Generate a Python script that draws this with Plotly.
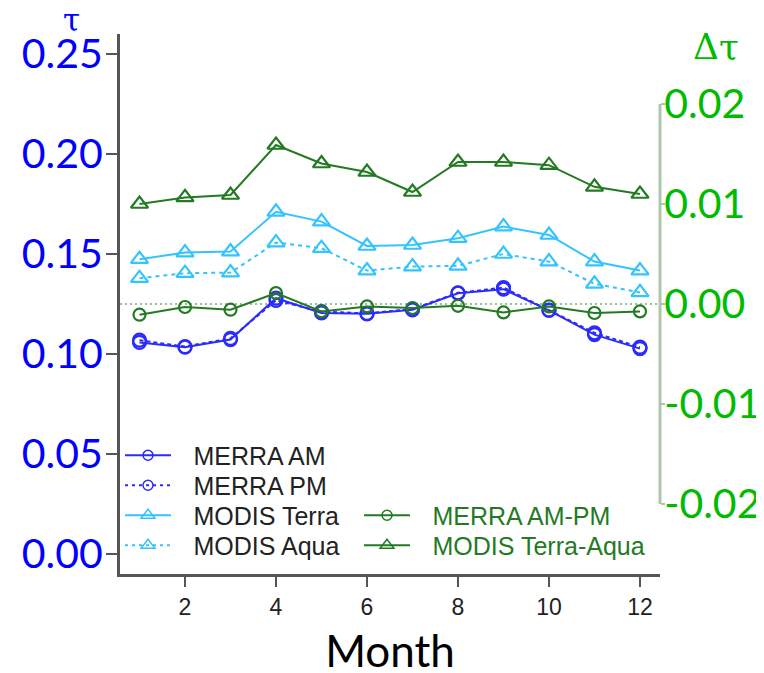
import plotly.graph_objects as go

months = list(range(1, 13))
merra_am = [0.1058, 0.1034, 0.1072, 0.1279, 0.1205, 0.1201, 0.1221, 0.1304, 0.1324, 0.1218, 0.1097, 0.1027]
merra_pm = [0.1069, 0.1037, 0.1078, 0.1268, 0.1212, 0.1203, 0.1225, 0.1306, 0.1332, 0.1220, 0.1106, 0.1034]
modis_terra = [0.1474, 0.1507, 0.1512, 0.1711, 0.1662, 0.1540, 0.1545, 0.1579, 0.1637, 0.1595, 0.1462, 0.1417]
modis_aqua = [0.1379, 0.1404, 0.1407, 0.1557, 0.1529, 0.1417, 0.1437, 0.1441, 0.1500, 0.1462, 0.1351, 0.1308]
merra_diff = [-0.00107, -0.0003, -0.00057, 0.00109, -0.00074, -0.00024, -0.0004, -0.00018, -0.00084, -0.00024, -0.0009, -0.00074]
modis_diff = [0.0100, 0.01066, 0.0109, 0.0159, 0.01405, 0.0132, 0.0112, 0.0142, 0.0142, 0.01388, 0.01172, 0.0110]

left_ticks = [0.0, 0.05, 0.10, 0.15, 0.20, 0.25]
left_ticktext = ["0.00", "0.05", "0.10", "0.15", "0.20", "0.25"]
right_ticks = [-0.02, -0.01, 0.0, 0.01, 0.02]
right_ticktext = ["-0.02", "-0.01", "0.00", "0.01", "0.02"]
x_ticks = [2, 4, 6, 8, 10, 12]

BLUE = "#2b2bff"
LBLUE = "#33c4ff"
DGREEN = "#237a23"
GAP = "\u2002\u2009"

fig = go.Figure()

def add(y, name, color, symbol, dash, yaxis="y", size=12):
    fig.add_trace(go.Scatter(
        x=months, y=y, name=name, yaxis=yaxis, mode="lines+markers",
        line=dict(color=color, width=2, dash=dash),
        marker=dict(symbol=symbol, size=size, color=color, line=dict(width=2.2, color=color)),
        showlegend=False))

add(modis_diff, "MODIS Terra-Aqua", DGREEN, "triangle-up-open", "solid", "y2", 15)
add(modis_terra, "MODIS Terra", LBLUE, "triangle-up-open", "solid", "y", 15)
add(modis_aqua, "MODIS Aqua", LBLUE, "triangle-up-open", "4px,4px", "y", 15)
add(merra_pm, "MERRA PM", BLUE, "circle-open", "4px,3px", "y", 13)
add(merra_am, "MERRA AM", BLUE, "circle-open", "solid", "y", 13)
add(merra_diff, "MERRA AM-PM", DGREEN, "circle-open", "solid", "y2", 12)

# legend-only entries (one legend box per entry for exact row placement)
def leg(name, color, symbol, dash, legend, msize):
    fig.add_trace(go.Scatter(
        x=[None], y=[None], name=GAP + name, mode="lines+markers",
        line=dict(color=color, width=2, dash=dash),
        marker=dict(symbol=symbol, size=msize, color=color, line=dict(width=1.5, color=color)),
        legend=legend, showlegend=True))

leg("MERRA AM", BLUE, "circle-open", "solid", "legend", 10)
leg("MERRA PM", BLUE, "circle-open", "3px,4px", "legend2", 10)
leg("MODIS Terra", LBLUE, "triangle-up-open", "solid", "legend3", 12)
leg("MODIS Aqua", LBLUE, "triangle-up-open", "3px,4px", "legend4", 12)
leg("MERRA AM-PM", DGREEN, "circle-open", "solid", "legend5", 10)
leg("MODIS Terra-Aqua", DGREEN, "triangle-up-open", "solid", "legend6", 12)

# zero reference line for right axis
fig.add_shape(type="line", xref="paper", x0=0, x1=1, yref="y2", y0=0, y1=0,
              line=dict(color="#93c493", width=2, dash="2px,3px"), layer="below")
# right axis spine over tick range only
fig.add_shape(type="line", xref="paper", x0=1, x1=1, yref="y2", y0=-0.02, y1=0.02,
              line=dict(color="#adc7ad", width=3))

def legbox(x, y, color):
    return dict(x=x, y=y, xanchor="left", yanchor="top", bgcolor="rgba(0,0,0,0)",
                font=dict(size=25, color=color, family="Liberation Sans, Arial"),
                itemwidth=46)

fig.update_layout(
    width=764, height=673,
    margin=dict(l=112, r=112, t=26, b=107),
    plot_bgcolor="white", paper_bgcolor="white",
    font=dict(family="Liberation Sans, Arial", color="#222222"),
    xaxis=dict(range=[0.5714, 12.44], tickvals=x_ticks, showgrid=False, zeroline=False,
               automargin=False,
               showline=True, linecolor="#555555", linewidth=3,
               ticks="outside", ticklen=10, tickwidth=1.5, tickcolor="#555555",
               tickfont=dict(size=23, color="#222222", family="Liberation Sans, Arial"),
               title=dict(text="Month", font=dict(family="Lato", size=44, color="black"), standoff=18)),
    yaxis=dict(range=[-0.01, 0.26], tickvals=left_ticks, ticktext=left_ticktext,
               automargin=False,
               showgrid=False, zeroline=False, showline=True, linecolor="#555555", linewidth=3,
               ticks="outside", ticklen=11, tickwidth=1.5, tickcolor="#555555",
               ticklabelstandoff=-5,
               tickfont=dict(size=41, color="#0000ff", family="Lato")),
    yaxis2=dict(range=[-0.027, 0.027], overlaying="y", side="right", anchor="x",
                automargin=False,
                tickvals=right_ticks, ticktext=right_ticktext,
                showgrid=False, zeroline=False, showline=False,
                ticks="outside", ticklen=4, tickwidth=1.5, tickcolor="#a9c6a9",
                ticklabelstandoff=-9,
                tickfont=dict(size=41, color="#00bb00", family="Lato")),
    legend=legbox(0.0, 0.262, "#222222"),
    legend2=legbox(0.0, 0.2065, "#222222"),
    legend3=legbox(0.0, 0.151, "#222222"),
    legend4=legbox(0.0, 0.0954, "#222222"),
    legend5=legbox(0.4426, 0.151, DGREEN),
    legend6=legbox(0.4426, 0.0954, DGREEN),
    annotations=[
        dict(text="τ", xref="paper", yref="paper", x=-0.09, y=1.026, xanchor="center", yanchor="middle",
             showarrow=False, font=dict(family="DejaVu Serif", size=31, color="#0000ff")),
        dict(text="Δτ", xref="paper", yref="paper", x=1.104, y=0.976, xanchor="center", yanchor="middle",
             showarrow=False, font=dict(family="DejaVu Serif", size=36, color="#00bb00")),
    ],
)

fig.write_html("out.html")
